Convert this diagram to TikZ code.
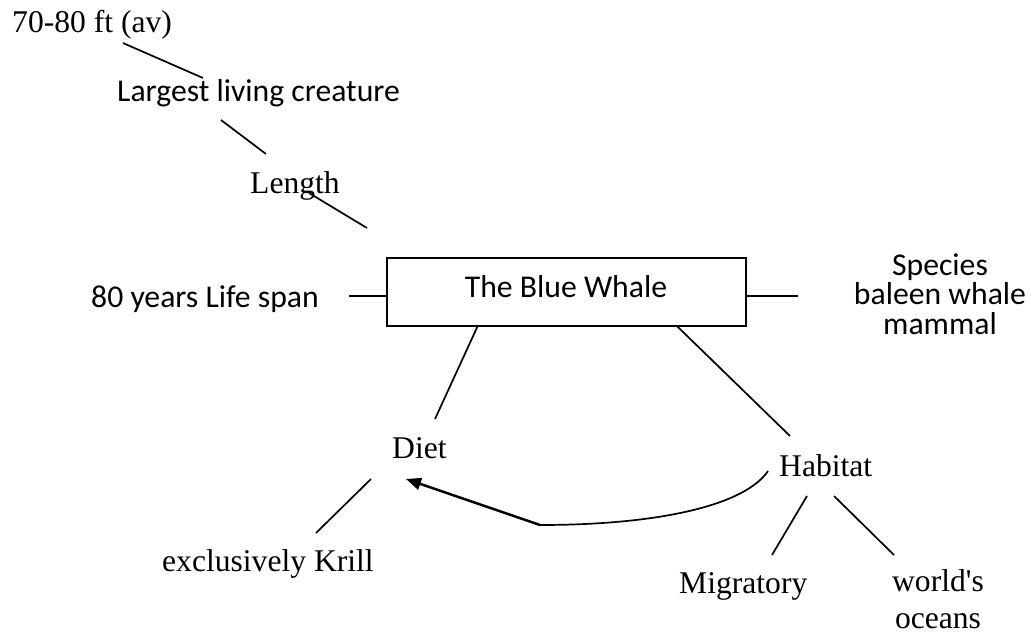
\documentclass[tikz,border=0pt]{standalone}
\usepackage{fontspec}
\setmainfont{Liberation Serif}
\newfontfamily\calfont{Carlito}
\usetikzlibrary{arrows.meta,calc}
\begin{document}
\begin{tikzpicture}[x=1pt,y=-1pt,
  serif/.style={inner sep=0pt,anchor=base west,font=\fontsize{31.6}{36.4}\selectfont},
  sans/.style={inner sep=0pt,anchor=base west,font=\calfont\fontsize{31.7}{29.5}\selectfont},
  link/.style={line width=1.7pt,black},
  flow/.style={line width=2.5pt,black,-{Triangle[length=15pt,width=12pt]}}]
\useasboundingbox[fill=white] (0,0) rectangle (1031,634);

% central box
\node[draw,line width=1.1pt,minimum width=359pt,minimum height=68pt,inner sep=0pt] (box) at (566.5,292) {};
\node[sans,anchor=base] (title) at (566,297) {The Blue Whale};

% length branch
\node[serif] (ft) at (12,33) {70-80 ft (av)};
\node[sans] (largest) at (117,102) {Largest living creature};
\node[serif] (length) at (250,193) {Length};
\coordinate (c1a) at (123,43);  \coordinate (c1b) at (203,78);
\coordinate (c2a) at (221,120); \coordinate (c2b) at (266,154);
\coordinate (c3a) at (309,193); \coordinate (c3b) at (367,228);
\draw[link] (c1a) -- (c1b);
\draw[link] (c2a) -- (c2b);
\draw[link] (c3a) -- (c3b);

% life span and species
\node[sans] (life) at (91,307) {80 years Life span};
\node[sans,anchor=base,align=center] (species) at (940,334) {Species\\baleen whale\\mammal};
\coordinate (lifeend) at (349,296);
\coordinate (specend) at (798,296);
\draw[link] (lifeend) -- (box.west |- lifeend);
\draw[link] (box.east |- specend) -- (specend);

% diet branch
\node[serif] (diet) at (392,458) {Diet};
\node[serif] (krill) at (162,571) {exclusively Krill};
\coordinate (dtop) at (435,419);
\coordinate (ka) at (371,479); \coordinate (kb) at (316,533);
\draw[link] ($(box.south west)+(91,0)$) -- (dtop);
\draw[link] (ka) -- (kb);

% habitat branch
\node[serif] (habitat) at (779,476) {Habitat};
\node[serif] (migr) at (679,593) {Migratory};
\node[serif,anchor=base,align=center] (oceans) at (938,628) {world\textquotesingle s\\oceans};
\coordinate (htop) at (790,436);
\coordinate (ma) at (807,496); \coordinate (mb) at (772,555);
\coordinate (oa) at (834,496); \coordinate (ob) at (894,555);
\draw[link] ($(box.south west)+(291,0)$) -- (htop);
\draw[link] (ma) -- (mb);
\draw[link] (oa) -- (ob);

% habitat feeds diet
\coordinate (hstart) at (768,471);
\coordinate (bend) at (540,525);
\coordinate (dtip) at (406,479);
\draw[link] (hstart) .. controls (745,505) and (660,525) .. (bend);
\draw[flow] (bend) -- (dtip);
\end{tikzpicture}
\end{document}
